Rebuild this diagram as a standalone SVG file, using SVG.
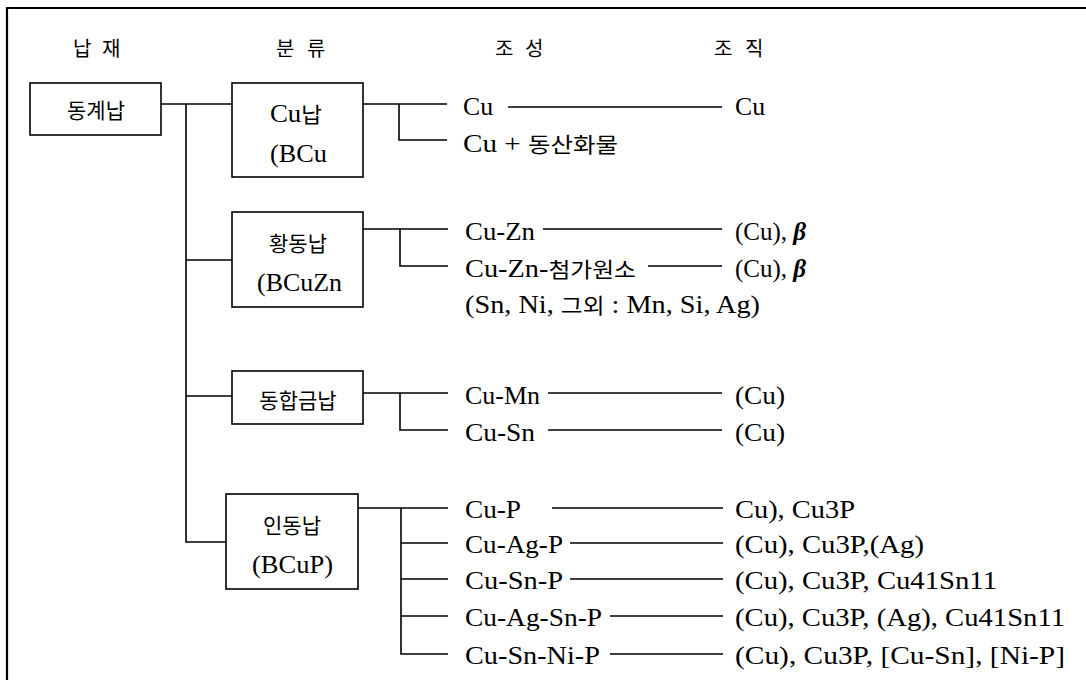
<svg xmlns="http://www.w3.org/2000/svg" width="1086" height="680" viewBox="0 0 1086 680">
<style>
.t{font-family:"Liberation Serif","Noto Sans CJK KR",serif;font-size:25px;fill:#000}
.t tspan.ko{font-family:"Noto Sans CJK KR","Liberation Sans",sans-serif;font-size:21px}
.k{font-family:"Noto Sans CJK KR","Liberation Sans",sans-serif;font-size:21px;fill:#000}
.h{font-family:"Noto Sans CJK KR","Liberation Sans",sans-serif;font-size:20px;fill:#000}
.box{fill:#fff;stroke:#000;stroke-width:1.6}
.c{fill:none;stroke:#000;stroke-width:1.6}
.thin{fill:none;stroke:#000;stroke-width:1.3}
</style>
<rect width="1086" height="680" fill="#fff"/>
<path d="M7,680 V8 H1086" fill="none" stroke="#000" stroke-width="2.2"/>
<g id="headers">
<text class="h" x="73" y="56">납</text><text class="h" x="102" y="56">재</text>
<text class="h" x="276" y="56">분</text><text class="h" x="307" y="56">류</text>
<text class="h" x="495" y="56">조</text><text class="h" x="525" y="56">성</text>
<text class="h" x="714" y="56">조</text><text class="h" x="745" y="56">직</text>
</g>
<g id="connectors">
<path class="c" d="M161,104 H232 M186,104 V542 H226 M186,260 H232 M186,396 H232"/>
<path class="c" d="M363,104 H447 M399,104 V140 H447"/>
<path class="c" d="M363,229 H448 M400,229 V266 H448"/>
<path class="c" d="M363,393 H448 M400,393 V430 H448"/>
<path class="c" d="M358,508 H448 M401,508 V654 H448 M401,543 H448 M401,579 H448 M401,616 H448"/>
<path class="thin" d="M508,107 H722 M543,229 H722 M648,266 H722 M548,393 H722 M548,430 H722 M552,508 H723 M570,543 H723 M570,579 H723 M610,616 H723 M610,654 H723"/>
</g>
<g id="n-donggye">
<rect class="box" x="30" y="83" width="131" height="52"/>
<text class="k" x="96" y="118" text-anchor="middle">동계납</text>
</g>
<g id="n-cu">
<rect class="box" x="232" y="83" width="131" height="94"/>
<text class="t" x="270" y="122" textLength="52" lengthAdjust="spacingAndGlyphs">Cu<tspan class="ko">납</tspan></text>
<text class="t" x="270" y="162" textLength="57" lengthAdjust="spacingAndGlyphs">(BCu</text>
</g>
<g id="n-brass">
<rect class="box" x="232" y="212" width="131" height="95"/>
<text class="k" x="298" y="251" text-anchor="middle">황동납</text>
<text class="t" x="257" y="291" textLength="85" lengthAdjust="spacingAndGlyphs">(BCuZn</text>
</g>
<g id="n-alloy">
<rect class="box" x="232" y="371" width="131" height="53"/>
<text class="k" x="298" y="408" text-anchor="middle">동합금납</text>
</g>
<g id="n-phos">
<rect class="box" x="226" y="494" width="132" height="95"/>
<text class="k" x="292" y="533" text-anchor="middle">인동납</text>
<text class="t" x="252" y="573" textLength="81" lengthAdjust="spacingAndGlyphs">(BCuP)</text>
</g>
<g id="compositions">
<text class="t" x="463" y="115" textLength="30" lengthAdjust="spacingAndGlyphs">Cu</text>
<text class="t" x="463" y="152" textLength="155" lengthAdjust="spacingAndGlyphs">Cu + <tspan class="ko">동산화물</tspan></text>
<text class="t" x="465" y="240" textLength="70" lengthAdjust="spacingAndGlyphs">Cu-Zn</text>
<text class="t" x="465" y="277" textLength="171" lengthAdjust="spacingAndGlyphs">Cu-Zn-<tspan class="ko">첨가원소</tspan></text>
<text class="t" x="465" y="313" textLength="295" lengthAdjust="spacingAndGlyphs">(Sn, Ni, <tspan class="ko">그외</tspan> : Mn, Si, Ag)</text>
<text class="t" x="465" y="404" textLength="75" lengthAdjust="spacingAndGlyphs">Cu-Mn</text>
<text class="t" x="465" y="441" textLength="70" lengthAdjust="spacingAndGlyphs">Cu-Sn</text>
<text class="t" x="465" y="518" textLength="56" lengthAdjust="spacingAndGlyphs">Cu-P</text>
<text class="t" x="465" y="553" textLength="98" lengthAdjust="spacingAndGlyphs">Cu-Ag-P</text>
<text class="t" x="465" y="589" textLength="98" lengthAdjust="spacingAndGlyphs">Cu-Sn-P</text>
<text class="t" x="465" y="626" textLength="137" lengthAdjust="spacingAndGlyphs">Cu-Ag-Sn-P</text>
<text class="t" x="465" y="664" textLength="135" lengthAdjust="spacingAndGlyphs">Cu-Sn-Ni-P</text>
</g>
<g id="structures">
<text class="t" x="735" y="115" textLength="30" lengthAdjust="spacingAndGlyphs">Cu</text>
<text class="t" x="735" y="240">(Cu), <tspan font-style="italic" font-weight="bold">β</tspan></text>
<text class="t" x="735" y="277">(Cu), <tspan font-style="italic" font-weight="bold">β</tspan></text>
<text class="t" x="735" y="404" textLength="50" lengthAdjust="spacingAndGlyphs">(Cu)</text>
<text class="t" x="735" y="441" textLength="50" lengthAdjust="spacingAndGlyphs">(Cu)</text>
<text class="t" x="735" y="518" textLength="120" lengthAdjust="spacingAndGlyphs">Cu), Cu3P</text>
<text class="t" x="735" y="553" textLength="189" lengthAdjust="spacingAndGlyphs">(Cu), Cu3P,(Ag)</text>
<text class="t" x="735" y="589" textLength="262" lengthAdjust="spacingAndGlyphs">(Cu), Cu3P, Cu41Sn11</text>
<text class="t" x="735" y="626" textLength="330" lengthAdjust="spacingAndGlyphs">(Cu), Cu3P, (Ag), Cu41Sn11</text>
<text class="t" x="735" y="664" textLength="330" lengthAdjust="spacingAndGlyphs">(Cu), Cu3P, [Cu-Sn], [Ni-P]</text>
</g>
</svg>
